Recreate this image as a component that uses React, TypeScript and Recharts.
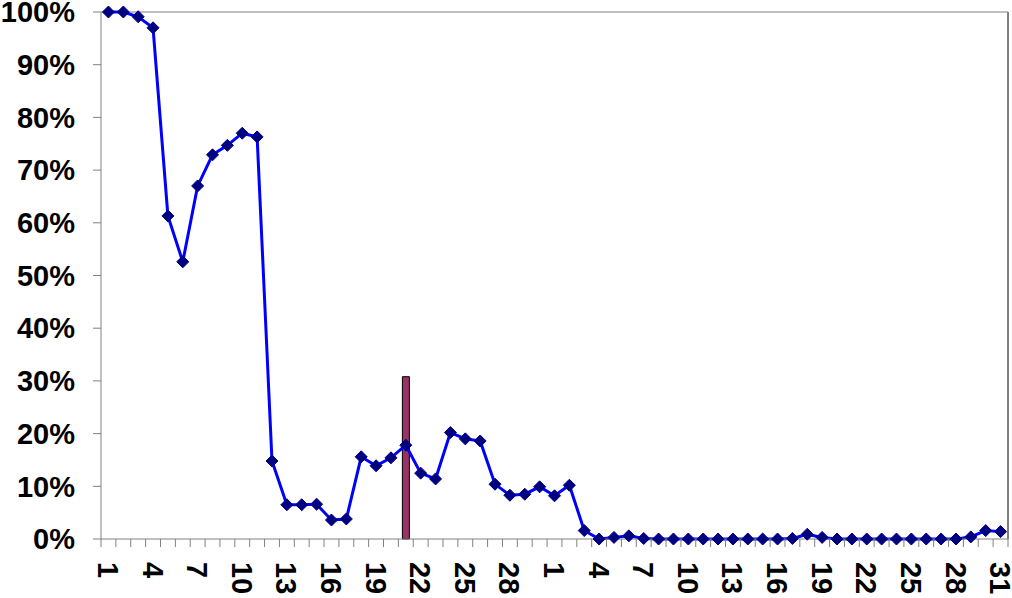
import React from 'react';
import { ComposedChart, Line, Bar, XAxis, YAxis, ReferenceLine } from 'recharts';

const dayLabels: string[] = [
  '1','2','3','4','5','6','7','8','9','10','11','12','13','14','15','16','17','18','19','20','21','22','23','24','25','26','27','28','29','30',
  '1','2','3','4','5','6','7','8','9','10','11','12','13','14','15','16','17','18','19','20','21','22','23','24','25','26','27','28','29','30','31',
];

const lineValues: number[] = [
  1.0, 1.0, 0.991, 0.97, 0.613, 0.526, 0.67, 0.729, 0.747, 0.77, 0.763, 0.148, 0.065, 0.065, 0.066, 0.036, 0.038, 0.156, 0.139, 0.154,
  0.178, 0.125, 0.114, 0.202, 0.19, 0.186, 0.104, 0.083, 0.085, 0.099,
  0.082, 0.102, 0.016, 0.0, 0.003, 0.006, 0.001, 0.0, 0.0, 0.0, 0.0, 0.0, 0.0, 0.0, 0.0, 0.0, 0.001, 0.009, 0.003, 0.0,
  0.0, 0.0, 0.0, 0.0, 0.0, 0.0, 0.0, 0.0, 0.004, 0.016, 0.014,
];

const barValues: (number | null)[] = dayLabels.map((_, i) => (i === 20 ? 0.308 : null));

const yTicks: number[] = [0, 0.1, 0.2, 0.3, 0.4, 0.5, 0.6, 0.7, 0.8, 0.9, 1.0];

const data = dayLabels.map((d, i) => ({
  idx: i + 1,
  day: d,
  value: lineValues[i],
  bar: barValues[i],
}));

const labelIdx: number[] = [];
for (let i = 1; i <= dayLabels.length; i += 3) labelIdx.push(i);
const boundaryIdx: number[] = [];
for (let i = 0; i <= dayLabels.length; i++) boundaryIdx.push(i + 0.5);
const xTicks = [...boundaryIdx, ...labelIdx].sort((a, b) => a - b);

const FONT = '"Liberation Sans", Arial, sans-serif';

const XTick = (props: any) => {
  const { x, y, payload } = props;
  const v = payload.value as number;
  if (!Number.isInteger(v)) {
    return <line x1={x} y1={y} x2={x} y2={y + 8} stroke="#808080" strokeWidth={1} />;
  }
  const label = dayLabels[v - 1];
  const ty = y + 23;
  return (
    <text
      x={x}
      y={ty}
      transform={`rotate(90, ${x}, ${ty})`}
      textAnchor="start"
      dy="0.36em"
      fill="#000"
      fontFamily={FONT}
      fontWeight="bold"
      fontSize={29}
    >
      {label}
    </text>
  );
};

const YTick = (props: any) => {
  const { x, y, payload } = props;
  return (
    <text x={x} y={y} textAnchor="end" dy="0.355em" fill="#000" fontFamily={FONT} fontWeight="bold" fontSize={29}>
      {`${Math.round(payload.value * 100)}%`}
    </text>
  );
};

const Diamond = (props: any) => {
  const { cx, cy } = props;
  if (cx == null || cy == null) return null;
  const r = 6;
  return (
    <polygon
      points={`${cx},${cy - r} ${cx + r},${cy} ${cx},${cy + r} ${cx - r},${cy}`}
      fill="#000080"
      stroke="#000080"
      strokeWidth={1}
    />
  );
};

export default function App() {
  return (
    <div style={{ position: 'absolute', left: 0, top: 0, background: '#fff' }}>
      <ComposedChart
        width={1012}
        height={598}
        data={data}
        margin={{ top: 12, right: 4, bottom: 0, left: 0 }}
      >
        <XAxis
          dataKey="idx"
          type="number"
          domain={[0.5, dayLabels.length + 0.5]}
          ticks={xTicks}
          interval={0}
          tick={<XTick />}
          tickLine={false}
          tickSize={0}
          tickMargin={0}
          height={59}
          axisLine={{ stroke: '#808080', strokeWidth: 1 }}
          allowDecimals
        />
        <YAxis
          type="number"
          domain={[0, 1]}
          ticks={yTicks}
          width={101}
          tick={<YTick />}
          tickSize={8}
          tickMargin={18}
          tickLine={{ stroke: '#808080' }}
          axisLine={{ stroke: '#808080', strokeWidth: 1 }}
          interval={0}
        />
        <ReferenceLine y={1} stroke="#808080" strokeWidth={1} />
        <ReferenceLine x={dayLabels.length + 0.5} stroke="#808080" strokeWidth={2} />
        <Bar dataKey="bar" barSize={7} fill="#993366" stroke="#000" strokeWidth={1} isAnimationActive={false} />
        <Line
          dataKey="value"
          type="linear"
          stroke="#0000FF"
          strokeWidth={3}
          dot={<Diamond />}
          activeDot={false}
          isAnimationActive={false}
        />
      </ComposedChart>
    </div>
  );
}
